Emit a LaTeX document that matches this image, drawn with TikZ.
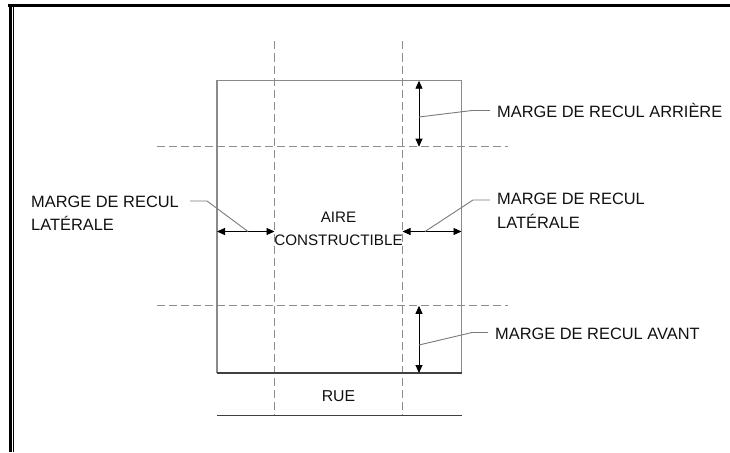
\documentclass[tikz,border=0pt]{standalone}
\usepackage{fontspec}
\setmainfont{Liberation Sans}
\usetikzlibrary{arrows.meta}
\definecolor{edgegray}{HTML}{8A8A8A}
\definecolor{darkgray2}{HTML}{404040}
\definecolor{dashgray}{HTML}{8C8C8C}
\definecolor{leadgray}{HTML}{7A7A7A}
\definecolor{txt}{HTML}{101010}
\begin{document}
\begin{tikzpicture}[x=1pt,y=-1pt,
  lbl/.style={font=\fontsize{16.4}{23.4}\selectfont, text=txt, inner sep=0pt, align=left},
  lblsmall/.style={font=\fontsize{15.2}{23.4}\selectfont, text=txt, inner sep=0pt},
  lotedge/.style={draw=edgegray, line width=1.1pt},
  streetline/.style={draw=darkgray2, line width=1.5pt},
  setback/.style={draw=dashgray, line width=1pt, dash pattern=on 8pt off 4pt},
  leader/.style={draw=leadgray, line width=0.9pt},
  dim/.style={draw=black, line width=0.9pt, {Triangle[length=8pt,width=7pt]}-{Triangle[length=8pt,width=7pt]}},
  framethick/.style={draw=black, line width=3.2pt},
  framethin/.style={draw=black, line width=1.5pt}]
\useasboundingbox (0,0) rectangle (730,452);
% window frame
\draw[framethick] (8.4,5.7) -- (730,5.7);
\draw[framethick] (10.1,4.1) -- (10.1,452);
\draw[framethin] (13.4,7.3) -- (13.4,452);
% setback lines
\draw[setback] (274.5,41.5) -- (274.5,415);
\draw[setback] (402.5,41.5) -- (402.5,415);
\draw[setback] (157,146.7) -- (508,146.7);
\draw[setback] (157,305.8) -- (508,305.8);
% lot
\coordinate (tl) at (217,80.7);
\coordinate (tr) at (461.5,80.7);
\coordinate (bl) at (217,373);
\coordinate (br) at (461.5,373);
\draw[lotedge] (bl) -- (tl) -- (tr) -- (br);
\draw[streetline] (bl) -- (br);
\coordinate (rl) at (217,415.5);
\coordinate (rr) at (461.5,415.5);
\draw[streetline] (rl) -- (rr);
% dimension arrows
\coordinate (aT1) at (419,80.7);
\coordinate (aT2) at (419,146.7);
\coordinate (aB1) at (419,305.8);
\coordinate (aB2) at (419,373);
\coordinate (aL1) at (217,231.5);
\coordinate (aL2) at (274.5,231.5);
\coordinate (aR1) at (402.5,231.5);
\coordinate (aR2) at (461.5,231.5);
\draw[dim] (aT1) -- (aT2);
\draw[dim] (aB1) -- (aB2);
\draw[dim] (aL1) -- (aL2);
\draw[dim] (aR1) -- (aR2);
% labels (multi-line nodes: base = last line)
\node[lbl, anchor=base west] (arr) at (497,117.3) {MARGE DE RECUL ARRIÈRE};
\node[lbl, anchor=base west] (av) at (495,339) {MARGE DE RECUL AVANT};
\node[lbl, anchor=base west] (latg) at (31,230.7) {MARGE DE RECUL\\LATÉRALE};
\node[lbl, anchor=base west] (latd) at (497,228) {MARGE DE RECUL\\LATÉRALE};
\node[lblsmall, align=center, anchor=base] (aire) at (338.5,245.7) {AIRE\\CONSTRUCTIBLE};
\node[lbl, font=\fontsize{15.8}{20}\selectfont, anchor=base] (rue) at (338.5,401) {RUE};
% leaders
\coordinate (lA0) at (419,117);
\coordinate (lA1) at (472,110.5);
\coordinate (lA2) at (490,110.5);
\draw[leader] (lA0) -- (lA1) -- (lA2);
\coordinate (lV0) at (419,345);
\coordinate (lV1) at (472,332.5);
\coordinate (lV2) at (488,332.5);
\draw[leader] (lV0) -- (lV1) -- (lV2);
\coordinate (lG0) at (248,231.5);
\coordinate (lG1) at (207,201);
\coordinate (lG2) at (190,201);
\draw[leader] (lG0) -- (lG1) -- (lG2);
\coordinate (lD0) at (425,231.5);
\coordinate (lD1) at (473,200);
\coordinate (lD2) at (490,200);
\draw[leader] (lD0) -- (lD1) -- (lD2);
\end{tikzpicture}
\end{document}
